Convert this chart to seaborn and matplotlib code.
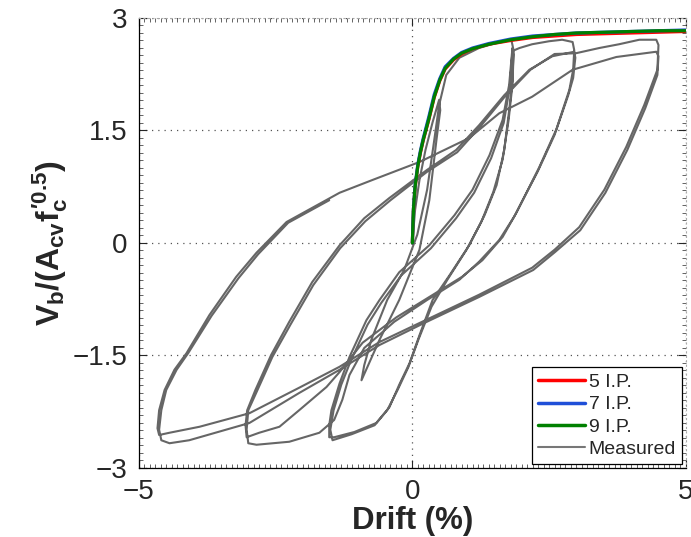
import numpy as np
import pandas as pd
import matplotlib
matplotlib.use('Agg')
import matplotlib.pyplot as plt
import seaborn as sns
from matplotlib.ticker import MultipleLocator
from matplotlib.lines import Line2D

# ---- analytical envelopes (integration points) ----
ip_drift = [0, 0.02, 0.05, 0.1, 0.15, 0.2, 0.3, 0.4, 0.5, 0.6, 0.75, 0.9,
            1.1, 1.4, 1.8, 2.2, 2.6, 3.0, 3.5, 4.0, 4.5, 5.0]
shear_5ip = [0, 0.44, 0.74, 1.02, 1.21, 1.37, 1.64, 1.94, 2.16, 2.32, 2.44, 2.52,
             2.59, 2.65, 2.70, 2.74, 2.76, 2.78, 2.79, 2.80, 2.81, 2.82]
shear_7ip = [0, 0.46, 0.77, 1.05, 1.24, 1.40, 1.68, 1.98, 2.19, 2.35, 2.46, 2.54,
             2.60, 2.66, 2.72, 2.76, 2.78, 2.80, 2.81, 2.82, 2.83, 2.84]
shear_9ip = [0, 0.45, 0.75, 1.03, 1.22, 1.38, 1.65, 1.95, 2.17, 2.33, 2.45, 2.53,
             2.59, 2.65, 2.71, 2.75, 2.78, 2.80, 2.81, 2.82, 2.83, 2.83]

# ---- measured hysteresis, cycle group by cycle group ----
# small cycle
c1_drift = [0, 0.05, 0.13, 0.24, 0.37, 0.49, 0.51, 0.44, 0.31, 0.13, -0.24, -0.60, -0.93,
            -0.88, -0.75, -0.46, -0.15, 0.09, 0.27, 0.40, 0.49]
c1_shear = [0, 0.44, 0.84, 1.24, 1.61, 1.91, 1.77, 1.37, 0.57, -0.09, -0.76, -1.29, -1.83,
            -1.63, -1.29, -0.76, -0.36, 0.11, 0.71, 1.37, 1.84]

# +1.75 / -1.5 % cycles
c2_drift = [0.62, 0.86, 1.22, 1.59, 1.81,
            1.85, 1.83, 1.77, 1.68, 1.54, 1.32, 1.04, 0.68, 0.37, 0.13, -0.05, -0.24, -0.42,
            -0.66, -1.06, -1.43, -1.52,
            -1.52, -1.48, -1.33, -1.15, -0.84, -0.60, -0.24, 0.31, 0.77, 1.10, 1.41, 1.65,
            1.77, 1.83,
            1.85, 1.83, 1.76, 1.65, 1.48, 1.26, 0.99, 0.64, 0.35, 0.11, -0.07, -0.27, -0.46,
            -0.69, -1.11, -1.46,
            -1.50, -1.44, -1.30, -1.12, -0.82, -0.57, -0.20, 0.34, 0.80, 1.13, 1.44, 1.67,
            1.78, 1.83]
c2_shear = [2.24, 2.47, 2.60, 2.68, 2.71,
            2.57, 2.17, 1.77, 1.24, 0.77, 0.37, -0.03, -0.43, -0.76, -1.23, -1.60, -1.89, -2.19,
            -2.40, -2.52, -2.59, -2.59,
            -2.43, -2.23, -1.87, -1.52, -1.03, -0.76, -0.39, -0.03, 0.37, 0.71, 1.17, 1.64,
            2.11, 2.60,
            2.51, 2.11, 1.64, 1.11, 0.68, 0.28, -0.09, -0.49, -0.85, -1.29, -1.65, -1.96, -2.23,
            -2.43, -2.55, -2.63,
            -2.49, -2.23, -1.89, -1.56, -1.09, -0.80, -0.43, -0.07, 0.33, 0.67, 1.13, 1.60,
            2.07, 2.56]

# +3 / -3 % cycles
c3_drift = [1.96, 2.19, 2.50, 2.74, 2.93,
            2.96, 2.94, 2.87, 2.63, 2.32, 1.90, 1.65, 1.28, 0.91, 0.31, -0.29, -0.91, -1.33,
            -1.57, -2.07, -2.43, -2.80, -3.03,
            -3.05, -3.02, -2.87, -2.58, -2.25, -1.83, -1.33, -0.88, -0.42, 0.26, 0.80, 1.22,
            1.68, 2.14, 2.56, 2.96,
            2.98, 2.94, 2.85, 2.60, 2.29, 1.86, 1.59, 1.22, 0.86, 0.27, -0.33, -0.88, -1.15,
            -1.28, -1.43, -1.70, -2.25, -2.85, -3.00,
            -3.03, -3.00, -2.85, -2.56, -2.23, -1.81, -1.32, -0.86, -0.40, 0.27, 0.82, 1.24,
            1.70, 2.16, 2.60, 2.99]
c3_shear = [2.60, 2.65, 2.69, 2.71, 2.68,
            2.57, 2.31, 2.04, 1.51, 1.01, 0.40, 0.08, -0.23, -0.45, -0.72, -0.99, -1.33, -1.72,
            -1.92, -2.23, -2.45, -2.53, -2.59,
            -2.43, -2.23, -1.96, -1.49, -1.05, -0.52, -0.03, 0.33, 0.60, 0.97, 1.24, 1.57,
            1.97, 2.31, 2.49, 2.55,
            2.47, 2.20, 1.97, 1.44, 0.95, 0.35, 0.04, -0.25, -0.49, -0.76, -1.05, -1.40, -1.76,
            -2.09, -2.36, -2.53, -2.65, -2.69, -2.67,
            -2.49, -2.23, -1.99, -1.52, -1.09, -0.56, -0.07, 0.29, 0.57, 0.95, 1.21, 1.55,
            1.96, 2.31, 2.52, 2.53]

# +4.5 / -4.6 % cycles
c4_drift = [3.42, 3.78, 4.15, 4.46,
            4.50, 4.48, 4.24, 3.91, 3.51, 3.05, 2.60, 2.19, 1.22, 0.18, -0.60, -1.33, -2.07,
            -2.98, -3.89, -4.44, -4.63,
            -4.66, -4.63, -4.53, -4.35, -4.13, -3.71, -3.22, -2.85, -2.30, -1.33, -0.73, 0.13,
            1.04, 1.59, 2.19, 2.93, 3.73, 4.46,
            4.50, 4.48, 4.26, 3.93, 3.53, 3.07, 2.61, 2.21, 1.22, 0.18, -0.60, -1.33, -2.07,
            -2.98, -4.08, -4.44, -4.59,
            -4.63, -4.59, -4.50, -4.31, -4.10, -3.67, -3.18, -2.82, -2.27, -1.52]
c4_shear = [2.60, 2.65, 2.71, 2.71,
            2.64, 2.31, 1.84, 1.28, 0.71, 0.21, -0.09, -0.33, -0.69, -1.05, -1.32, -1.65, -1.93,
            -2.27, -2.45, -2.53, -2.56,
            -2.47, -2.23, -1.96, -1.69, -1.47, -0.96, -0.45, -0.13, 0.28, 0.67, 0.84, 1.08,
            1.40, 1.73, 1.95, 2.31, 2.48, 2.55,
            2.49, 2.24, 1.80, 1.24, 0.67, 0.17, -0.12, -0.36, -0.72, -1.08, -1.36, -1.69, -2.00,
            -2.40, -2.63, -2.67, -2.63,
            -2.49, -2.23, -1.96, -1.69, -1.47, -0.97, -0.47, -0.15, 0.27, 0.57]

meas = pd.DataFrame({
    'drift': np.concatenate([c1_drift, c2_drift, c3_drift, c4_drift]),
    'shear': np.concatenate([c1_shear, c2_shear, c3_shear, c4_shear]),
})
env = pd.DataFrame({
    'drift': ip_drift * 3,
    'shear': shear_5ip + shear_7ip + shear_9ip,
    'model': ['5 I.P.'] * len(ip_drift) + ['7 I.P.'] * len(ip_drift) + ['9 I.P.'] * len(ip_drift),
})

sns.set_style('ticks')
plt.rcParams['font.family'] = ['Liberation Sans', 'DejaVu Sans']
plt.rcParams['mathtext.fontset'] = 'custom'
plt.rcParams['mathtext.rm'] = 'Liberation Sans:bold'
plt.rcParams['mathtext.it'] = 'Liberation Sans:bold'
plt.rcParams['mathtext.bf'] = 'Liberation Sans:bold'
plt.rcParams['xtick.direction'] = 'in'
plt.rcParams['ytick.direction'] = 'in'

colors = {'5 I.P.': '#ff0000', '7 I.P.': '#1f4fd8', '9 I.P.': '#008000'}

fig = plt.figure(figsize=(6.91, 5.37), dpi=100)
ax = fig.add_axes([0.201, 0.1285, 0.7915, 0.838])

sns.lineplot(data=meas, x='drift', y='shear', sort=False, estimator=None,
             color='#666666', lw=1.5, ax=ax)
sns.lineplot(data=env, x='drift', y='shear', hue='model', palette=colors, sort=False,
             estimator=None, lw=2.3, legend=False, ax=ax)

ax.set_xlim(-5, 5)
ax.set_ylim(-3, 3)
ax.set_xticks([-5, 0, 5])
ax.set_yticks([-3, -1.5, 0, 1.5, 3])
ax.set_yticklabels(['\u22123', '\u22121.5', '0', '1.5', '3'])
ax.set_xticklabels(['\u22125', '0', '5'])
ax.xaxis.set_minor_locator(MultipleLocator(0.1))
ax.yaxis.set_minor_locator(MultipleLocator(0.1))
ax.tick_params(which='major', length=6, width=0.8, labelsize=20, pad=8,
               top=True, right=True)
ax.tick_params(which='minor', length=3, width=0.5, top=True, right=True)
ax.grid(True, which='major', linestyle=(0, (1, 4)), color='#555555', lw=0.9)
for s in ['top', 'right']:
    ax.spines[s].set_color('#aaaaaa')
    ax.spines[s].set_linestyle((0, (1, 3)))
for s in ['left', 'bottom']:
    ax.spines[s].set_color('black')
    ax.spines[s].set_linewidth(0.9)

ax.set_xlabel('Drift (%)', fontsize=22.5, fontweight='bold', labelpad=1)
ax.set_ylabel(r"$V_b/(A_{cv}f^{\prime 0.5}_c)$", fontsize=23, fontweight='bold', labelpad=2)

handles = [Line2D([], [], color=colors['5 I.P.'], lw=2.5),
           Line2D([], [], color=colors['7 I.P.'], lw=2.5),
           Line2D([], [], color=colors['9 I.P.'], lw=2.5),
           Line2D([], [], color='#777777', lw=1.5)]
leg = ax.legend(handles, ['5 I.P.', '7 I.P.', '9 I.P.', 'Measured'], loc='lower right',
                fontsize=14, frameon=True, fancybox=False, framealpha=1,
                edgecolor='black', borderaxespad=0.2, handlelength=2.4,
                handletextpad=0.2, labelspacing=0.25, borderpad=0.3)
leg.get_frame().set_linewidth(0.9)

fig.savefig('out.png', dpi=100)
